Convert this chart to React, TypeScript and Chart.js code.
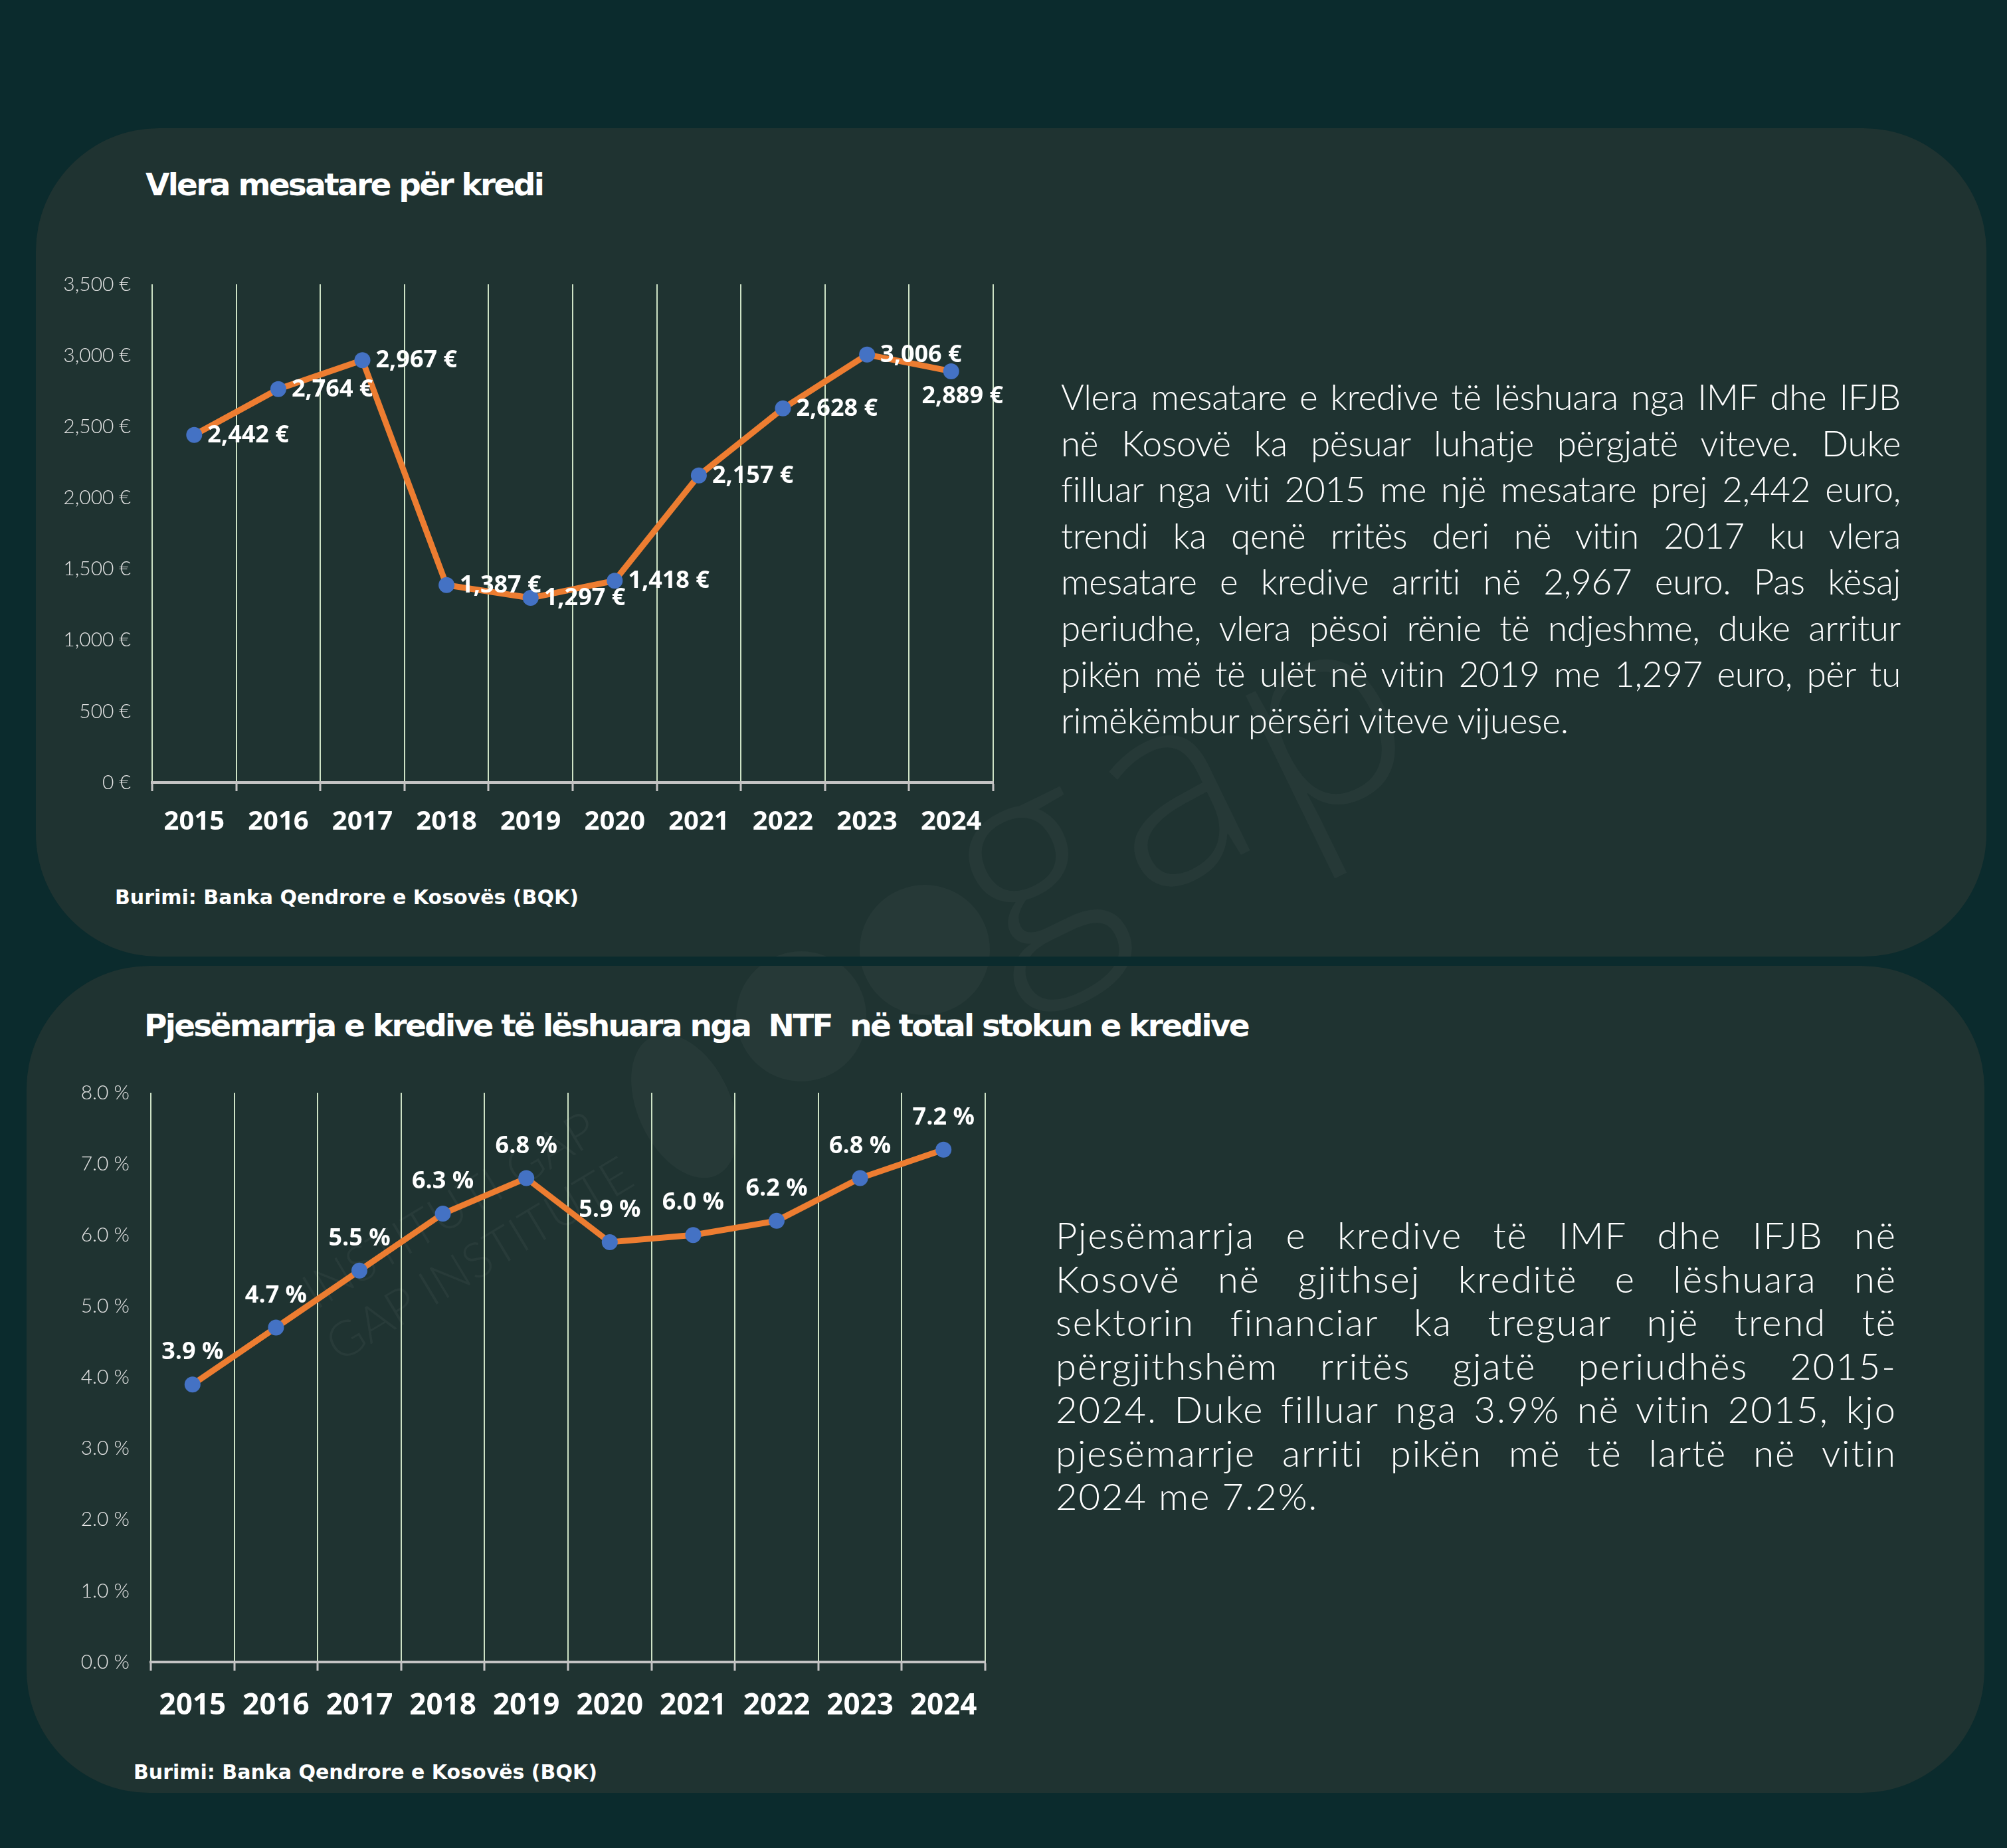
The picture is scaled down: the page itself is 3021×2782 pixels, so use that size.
import React, { useEffect, useRef } from "react";
import { Chart, registerables } from "chart.js";

Chart.register(...registerables);

// ---------- data ----------
const years = ["2015", "2016", "2017", "2018", "2019", "2020", "2021", "2022", "2023", "2024"];
const avgLoanValues = [2442, 2764, 2967, 1387, 1297, 1418, 2157, 2628, 3006, 2889];
const avgLoanLabelSide = ["right", "right", "right", "right", "right", "right", "right", "right", "right", "below"];
const avgLoanTicks = [0, 500, 1000, 1500, 2000, 2500, 3000, 3500];

const shareValues = [3.9, 4.7, 5.5, 6.3, 6.8, 5.9, 6.0, 6.2, 6.8, 7.2];
const shareLabelSide = ["above", "above", "above", "above", "above", "above", "above", "above", "above", "above"];
const shareTicks = [0, 1, 2, 3, 4, 5, 6, 7, 8];

const title1 = "Vlera mesatare për kredi";
const title2 = "Pjesëmarrja e kredive të lëshuara nga  NTF  në total stokun e kredive";
const sourceText = "Burimi: Banka Qendrore e Kosovës (BQK)";

const para1 = [
  "Vlera mesatare e kredive të lëshuara nga IMF dhe IFJB",
  "në Kosovë ka pësuar luhatje përgjatë viteve. Duke",
  "filluar nga viti 2015 me një mesatare prej 2,442 euro,",
  "trendi ka qenë rritës deri në vitin 2017 ku vlera",
  "mesatare e kredive arriti në 2,967 euro. Pas kësaj",
  "periudhe, vlera pësoi rënie të ndjeshme, duke arritur",
  "pikën më të ulët në vitin 2019 me 1,297 euro, për tu",
  "rimëkëmbur përsëri viteve vijuese.",
];
const para2 = [
  "Pjesëmarrja e kredive të IMF dhe IFJB në",
  "Kosovë në gjithsej kreditë e lëshuara në",
  "sektorin financiar ka treguar një trend të",
  "përgjithshëm rritës gjatë periudhës 2015-",
  "2024. Duke filluar nga 3.9% në vitin 2015, kjo",
  "pjesëmarrje arriti pikën më të lartë në vitin",
  "2024 me 7.2%.",
];

// ---------- styles ----------
const BG = "#0b2b2d";
const PANEL = "#1f3331";
const LINE = "#ED7D31";
const POINT = "#4472C4";
const GRID = "#cde2c5";
const AXIS = "#c4c4c4";
const TITLE_FONT = "'DejaVu Sans', 'Liberation Sans', sans-serif";
const BODY_FONT = "Lato, 'Open Sans', sans-serif";
const NUM_FONT = "'Open Sans', 'Liberation Sans', sans-serif";

const fmtEuro = (v: number) => `${v.toLocaleString("en-US")} €`;
const fmtPct = (v: number) => `${v.toFixed(1)} %`;

type ChartProps = {
  left: number;
  top: number;
  width: number;
  height: number;
  padTop: number;
  padRight: number;
  yWidth: number;
  xHeight: number;
  values: number[];
  sides: string[];
  ticks: number[];
  tickFmt: (v: number) => string;
  labelFmt: (v: number) => string;
  xFontSize: number;
  xPad: number;
};

function LineChart(p: ChartProps) {
  const ref = useRef<HTMLCanvasElement | null>(null);
  useEffect(() => {
    if (!ref.current) return;
    const labelPlugin = {
      id: "pointLabels",
      afterDatasetsDraw(chart: any) {
        const ctx = chart.ctx as CanvasRenderingContext2D;
        const meta = chart.getDatasetMeta(0);
        ctx.save();
        ctx.font = `700 36px ${NUM_FONT}`;
        ctx.fillStyle = "#ffffff";
        meta.data.forEach((pt: any, i: number) => {
          const text = p.labelFmt(p.values[i]);
          const side = p.sides[i];
          if (side === "right") {
            ctx.textAlign = "left";
            ctx.textBaseline = "middle";
            ctx.fillText(text, pt.x + 20, pt.y + 1);
          } else if (side === "below") {
            ctx.textAlign = "center";
            ctx.textBaseline = "top";
            ctx.fillText(text, pt.x + 17, pt.y + 20);
          } else {
            ctx.textAlign = "center";
            ctx.textBaseline = "alphabetic";
            ctx.fillText(text, pt.x, pt.y - 38);
          }
        });
        ctx.restore();
      },
    };
    const step = p.ticks[1] - p.ticks[0];
    const chart = new Chart(ref.current, {
      type: "line",
      data: {
        labels: years,
        datasets: [
          {
            data: p.values,
            borderColor: LINE,
            borderWidth: 9,
            backgroundColor: POINT,
            pointBackgroundColor: POINT,
            pointBorderColor: POINT,
            pointBorderWidth: 0,
            pointRadius: 12,
            tension: 0,
            fill: false,
            clip: false as any,
          },
        ],
      },
      options: {
        animation: false,
        responsive: true,
        maintainAspectRatio: false,
        events: [],
        layout: { padding: { left: 0, right: p.padRight, top: p.padTop, bottom: 0 } },
        plugins: { legend: { display: false }, tooltip: { enabled: false } },
        scales: {
          x: {
            type: "category",
            offset: true,
            grid: {
              display: true,
              offset: true,
              color: GRID,
              lineWidth: 2,
              drawTicks: true,
              tickLength: 13,
              tickColor: AXIS,
              tickWidth: 3,
            },
            border: { display: true, color: AXIS, width: 4 },
            ticks: {
              color: "#ffffff",
              padding: p.xPad,
              maxRotation: 0,
              autoSkip: false,
              font: { family: NUM_FONT, size: p.xFontSize, weight: "bold" },
            },
            afterFit: (s: any) => {
              s.height = p.xHeight;
            },
          },
          y: {
            min: p.ticks[0],
            max: p.ticks[p.ticks.length - 1],
            grid: { display: false },
            border: { display: false },
            ticks: {
              stepSize: step,
              color: "#e6e6e6",
              padding: 24,
              font: { family: BODY_FONT, size: 30, weight: "300" as any },
              callback: (v: any) => p.tickFmt(Number(v)),
            },
            afterFit: (s: any) => {
              s.width = p.yWidth;
            },
          },
        },
      },
      plugins: [labelPlugin],
    } as any);
    return () => chart.destroy();
  }, []);
  return (
    <div style={{ position: "absolute", left: p.left, top: p.top, width: p.width, height: p.height }}>
      <canvas ref={ref} />
    </div>
  );
}

function Watermark({ ox, oy }: { ox: number; oy: number }) {
  const faint = "rgba(255,255,255,0.032)";
  const circle = (cx: number, cy: number, r: number) => (
    <div
      style={{
        position: "absolute",
        left: cx - r - ox,
        top: cy - r - oy,
        width: 2 * r,
        height: 2 * r,
        borderRadius: "50%",
        background: faint,
      }}
    />
  );
  // word "gap": centre of the 'a' bowl near (1785, 1215), rotated -26deg
  const fs = 400;
  const ls = 28;
  const w = 1100;
  const originY = 0.634 * fs;
  return (
    <>
      {circle(1392, 1430, 98)}
      {circle(1206, 1530, 98)}
      <div
        style={{
          position: "absolute",
          left: 1030 - 70 - ox,
          top: 1665 - 115 - oy,
          width: 140,
          height: 230,
          borderRadius: "50%",
          background: faint,
          transform: "rotate(-25deg)",
        }}
      />
      <div
        style={{
          position: "absolute",
          left: 1785 - w / 2 - ox,
          top: 1215 - originY - oy,
          width: w,
          height: fs,
          lineHeight: `${fs}px`,
          textAlign: "center",
          paddingLeft: ls,
          boxSizing: "border-box",
          fontFamily: "'Open Sans', Lato, sans-serif",
          fontWeight: 300,
          fontSize: fs,
          letterSpacing: ls,
          color: "rgba(255,255,255,0.03)",
          transformOrigin: `${w / 2}px ${originY}px`,
          transform: "rotate(-26deg)",
          whiteSpace: "nowrap",
        }}
      >
        gap
      </div>
      <div
        style={{
          position: "absolute",
          left: 700 - 400 - ox,
          top: 1860 - 90 - oy,
          width: 800,
          height: 180,
          textAlign: "center",
          fontFamily: BODY_FONT,
          fontWeight: 300,
          fontSize: 74,
          lineHeight: "86px",
          color: "rgba(255,255,255,0.045)",
          transform: "rotate(-31deg)",
          whiteSpace: "nowrap",
        }}
      >
        <div>INSTITUTI GAP</div>
        <div>GAP INSTITUTE</div>
      </div>
    </>
  );
}

function Paragraph({
  lines,
  left,
  top,
  width,
  size,
  lh,
  ls,
}: {
  lines: string[];
  left: number;
  top: number;
  width: number;
  size: number;
  lh: number;
  ls: number;
}) {
  return (
    <div
      style={{
        position: "absolute",
        left,
        top,
        width,
        fontFamily: BODY_FONT,
        fontWeight: 300,
        fontSize: size,
        letterSpacing: ls,
        color: "#ffffff",
      }}
    >
      {lines.map((t, i) => {
        const last = i === lines.length - 1;
        return (
          <div
            key={i}
            style={{
              height: lh,
              lineHeight: `${lh}px`,
              textAlign: last ? "left" : "justify",
              textAlignLast: last ? "left" : "justify",
            }}
          >
            {t}
          </div>
        );
      })}
    </div>
  );
}

const textAbs = (left: number, top: number, size: number, ls: number): React.CSSProperties => ({
  position: "absolute",
  left,
  top,
  fontFamily: TITLE_FONT,
  fontWeight: 700,
  fontSize: size,
  lineHeight: `${size}px`,
  letterSpacing: ls,
  color: "#ffffff",
  whiteSpace: "pre",
});

export default function App() {
  useEffect(() => {
    document.body.style.margin = "0";
  }, []);
  const p1 = { x: 54, y: 193, w: 2936, h: 1247 };
  const p2 = { x: 40, y: 1454, w: 2947, h: 1245 };
  return (
    <div
      style={{
        position: "absolute",
        left: 0,
        top: 0,
        width: 3021,
        height: 2782,
        background: BG,
        overflow: "hidden",
      }}
    >
      <div
        style={{
          position: "absolute",
          left: p1.x,
          top: p1.y,
          width: p1.w,
          height: p1.h,
          borderRadius: 185,
          background: PANEL,
          overflow: "hidden",
        }}
      >
        <Watermark ox={p1.x} oy={p1.y} />
      </div>
      <div
        style={{
          position: "absolute",
          left: p2.x,
          top: p2.y,
          width: p2.w,
          height: p2.h,
          borderRadius: 185,
          background: PANEL,
          overflow: "hidden",
        }}
      >
        <Watermark ox={p2.x} oy={p2.y} />
      </div>

      <div style={textAbs(219, 254, 47, -2.7)}>{title1}</div>
      <div style={textAbs(217, 1520, 47, -2.7)}>{title2}</div>
      <div style={textAbs(173, 1336, 30, 0)}>{sourceText}</div>
      <div style={textAbs(201, 2653, 30, 0)}>{sourceText}</div>

      <LineChart
        left={50}
        top={380}
        width={1530}
        height={900}
        padTop={48}
        padRight={85}
        yWidth={179}
        xHeight={102}
        values={avgLoanValues}
        sides={avgLoanLabelSide}
        ticks={avgLoanTicks}
        tickFmt={fmtEuro}
        labelFmt={fmtEuro}
        xFontSize={40}
        xPad={23}
      />
      <LineChart
        left={50}
        top={1590}
        width={1530}
        height={1020}
        padTop={55}
        padRight={97}
        yWidth={177}
        xHeight={108}
        values={shareValues}
        sides={shareLabelSide}
        ticks={shareTicks}
        tickFmt={fmtPct}
        labelFmt={fmtPct}
        xFontSize={44}
        xPad={27}
      />

      <Paragraph lines={para1} left={1597} top={562} width={1264} size={53} lh={69.5} ls={-0.3} />
      <Paragraph lines={para2} left={1589} top={1826} width={1266} size={56} lh={65.5} ls={2} />
    </div>
  );
}
